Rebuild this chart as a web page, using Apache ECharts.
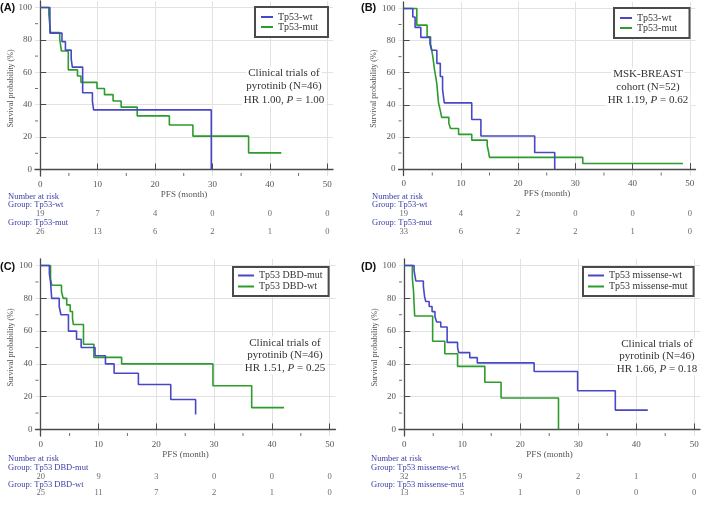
<!DOCTYPE html>
<html>
<head>
<meta charset="utf-8">
<script src="https://cdn.jsdelivr.net/npm/echarts@6/dist/echarts.min.js"></script>
<style>
html, body { margin: 0; padding: 0; background: #fff; }
#chart { width: 709px; height: 507px; }
</style>
</head>
<body>
<div id="chart"></div>
<script>
// tick labels
const xTicks = [0, 10, 20, 30, 40, 50];
const yTicks = [0, 20, 40, 60, 80, 100];
const xMinor = [5, 15, 25, 35, 45];
const yMinor = [10, 30, 50, 70, 90];

// (A) Tp53-wt / Tp53-mut, clinical trials
const aWtTime  = [0, 1.7, 3.8, 4.4, 5.4, 5.6, 7.4, 9.1, 9.3, 29.8];
const aWtSurv  = [100, 84.2, 78.9, 73.7, 68.4, 63.2, 47.4, 42.1, 36.8, 0];
const aMutTime = [0, 1.5, 1.8, 3.4, 3.7, 4.9, 6.5, 7.1, 9.9, 11.2, 12.7, 14.1, 16.9, 22.5, 26.6, 36.3, 42.0];
const aMutSurv = [100, 96.2, 84.6, 80.8, 73.1, 61.5, 57.7, 53.8, 50, 46.2, 42.3, 38.5, 33.1, 27.5, 20.6, 10.3, 10.3];
const aRiskWt  = [19, 7, 4, 0, 0, 0];
const aRiskMut = [26, 13, 6, 2, 1, 0];

// (B) MSK-BREAST
const bWtTime  = [0, 1.6, 2.0, 3.0, 4.6, 4.9, 5.8, 6.4, 6.8, 7.1, 11.9, 13.5, 22.9, 26.4];
const bWtSurv  = [100, 94.7, 88.2, 82, 78, 74, 65.8, 57.6, 49.4, 41.2, 30.9, 20.6, 10.3, 0];
const bMutTime = [0, 2.3, 4.1, 4.7, 4.9, 5.1, 5.4, 5.6, 5.8, 5.95, 6.1, 6.4, 6.65, 7.9, 8.2, 9.6, 11.9, 14.6, 14.8, 15.0, 31.3, 48.8];
const bMutSurv = [100, 89.6, 82.4, 78, 74, 70, 61.6, 57.5, 53, 47, 41, 36.5, 32.2, 28.4, 25.3, 21.6, 18, 14.5, 11.4, 7.3, 3.5, 3.5];
const bRiskWt  = [19, 4, 2, 0, 0, 0];
const bRiskMut = [33, 6, 2, 2, 1, 0];

// (C) DBD-mut / DBD-wt
const cMutTime = [0, 1.5, 1.7, 1.9, 3.2, 3.5, 4.8, 6.2, 7.0, 9.4, 11.2, 12.7, 16.9, 22.5, 26.8];
const cMutSurv = [100, 95, 90, 80, 75, 70, 60, 55, 50, 45, 40, 34.3, 27.4, 18.3, 9.1];
const cWtTime  = [0, 1.7, 1.9, 3.6, 3.9, 4.5, 5.1, 5.5, 5.65, 7.4, 9.2, 14.0, 29.8, 36.5, 42.1];
const cWtSurv  = [100, 92, 88, 84, 80, 76, 72, 68, 64, 52, 44, 40, 26.7, 13.3, 13.3];
const cRiskMut = [20, 9, 3, 0, 0, 0];
const cRiskWt  = [25, 11, 7, 2, 1, 0];

// (D) missense-wt / missense-mut
const dWtTime  = [0, 1.7, 2.0, 3.3, 3.4, 3.5, 3.7, 4.3, 4.8, 5.3, 5.6, 6.3, 7.4, 9.2, 9.4, 11.3, 12.6, 22.4, 29.9, 36.4, 42.0];
const dWtSurv  = [100, 96.9, 90.6, 87.5, 84.4, 81.3, 78.1, 75, 71.9, 68.8, 65.6, 62.5, 53.1, 50, 46.9, 43.8, 40.6, 35.4, 23.6, 11.8, 11.8];
const dMutTime = [0, 1.4, 1.6, 1.8, 4.9, 7.0, 9.2, 13.9, 16.7, 26.6];
const dMutSurv = [100, 92.3, 84.6, 69.2, 53.8, 46.2, 38.5, 28.8, 19.2, 0];
const dRiskWt  = [32, 15, 9, 2, 1, 0];
const dRiskMut = [13, 5, 1, 0, 0, 0];

const panels = [
  { tag: '(A)', names: ['Tp53-wt', 'Tp53-mut'],
    curves: [[aWtTime, aWtSurv], [aMutTime, aMutSurv]], risk: [aRiskWt, aRiskMut],
    note: ['Clinical trials of', 'pyrotinib (N=46)', 'HR 1.00, {i|P} = 1.00'] },
  { tag: '(B)', names: ['Tp53-wt ', 'Tp53-mut '],
    curves: [[bWtTime, bWtSurv], [bMutTime, bMutSurv]], risk: [bRiskWt, bRiskMut],
    note: ['MSK-BREAST', 'cohort (N=52)', 'HR 1.19, {i|P} = 0.62'] },
  { tag: '(C)', names: ['Tp53 DBD-mut', 'Tp53 DBD-wt'],
    curves: [[cMutTime, cMutSurv], [cWtTime, cWtSurv]], risk: [cRiskMut, cRiskWt],
    note: ['Clinical trials of', 'pyrotinib (N=46)', 'HR 1.51, {i|P} = 0.25'] },
  { tag: '(D)', names: ['Tp53 missense-wt', 'Tp53 missense-mut'],
    curves: [[dWtTime, dWtSurv], [dMutTime, dMutSurv]], risk: [dRiskWt, dRiskMut],
    note: ['Clinical trials of', 'pyrotinib (N=46)', 'HR 1.66, {i|P} = 0.18'] }
];

// pixel layout of each panel
const boxes = [
  { plot: [35, 1, 298, 175], risk: [214, 18], tag: [0, 8], legend: [255, 7, 12, 9], note: [284, 73, 13.5], head: [8, 197, 205, 223] },
  { plot: [398.5, 2, 297, 173.5], risk: [214, 18], tag: [361, 8], legend: [614, 8, 12, 9], note: [648, 74, 13], head: [372, 197, 205, 223] },
  { plot: [35.5, 259, 300, 177], risk: [477, 16], tag: [0, 267], legend: [233, 267, 16, 11], note: [285, 343, 12.5], head: [8, 459, 468, 485] },
  { plot: [399, 259, 301, 177], risk: [477, 16], tag: [361, 267], legend: [583, 267, 16, 11], note: [657, 344, 12.5], head: [371, 459, 468, 485] }
];

const SERIF = '"Liberation Serif", "Times New Roman", serif';
const COLORS = ['#4848c6', '#2c9c2c'];
const GROUP_BLUE = '#3c3ca6';
const AXIS = '#4a4a4a';

const grid = [], xAxis = [], yAxis = [], series = [], legend = [], graphic = [];

panels.forEach((p, i) => {
  const b = boxes[i];
  const gi = i * 2, ri = i * 2 + 1;
  grid.push({ left: b.plot[0], top: b.plot[1], width: b.plot[2], height: b.plot[3] });
  grid.push({ left: b.plot[0], top: b.risk[0], width: b.plot[2], height: b.risk[1] });

  xAxis.push({
    gridIndex: gi, type: 'value', min: -0.9, max: 51,
    name: 'PFS (month)', nameLocation: 'middle', nameGap: 12,
    nameTextStyle: { fontFamily: SERIF, fontSize: 9, color: '#555' },
    axisLine: { lineStyle: { color: AXIS, width: 1.3 } },
    axisTick: { customValues: xTicks, inside: true, length: 6, lineStyle: { color: AXIS } },
    axisLabel: { customValues: xTicks, fontFamily: SERIF, fontSize: 9, color: '#555', margin: 4 },
    splitLine: { show: true, lineStyle: { color: '#e2e2e2', width: 1 } }
  });
  yAxis.push({
    gridIndex: gi, type: 'value', min: -4, max: 104,
    name: 'Survival probability (%)', nameLocation: 'middle', nameGap: 17,
    nameTextStyle: { fontFamily: SERIF, fontSize: 8, color: '#555' },
    axisLine: { show: true, lineStyle: { color: AXIS, width: 1.3 } },
    axisTick: { show: true, customValues: yTicks, inside: true, length: 6, lineStyle: { color: AXIS } },
    axisLabel: { customValues: yTicks, fontFamily: SERIF, fontSize: 9, color: '#555', margin: 3 },
    splitLine: { show: true, lineStyle: { color: '#e2e2e2', width: 1 } }
  });
  xAxis.push({ gridIndex: ri, type: 'value', min: -0.9, max: 51, show: false });
  yAxis.push({ gridIndex: ri, type: 'value', min: 0, max: 1, inverse: true, show: false });

  p.curves.forEach((c, k) => {
    series.push({
      name: p.names[k], type: 'line', step: 'end', xAxisIndex: gi, yAxisIndex: gi,
      showSymbol: false, symbol: 'none', color: COLORS[k],
      lineStyle: { width: 1.6, color: COLORS[k] },
      data: c[0].map((t, j) => [t, c[1][j]]), z: 3 - k
    });
  });

  // minor ticks drawn as short marks via markLine-free scatter symbols
  series.push({
    type: 'scatter', xAxisIndex: gi, yAxisIndex: gi, silent: true,
    symbol: 'rect', symbolSize: [1, 3], symbolOffset: [0, -1.5],
    itemStyle: { color: AXIS }, data: xMinor.map(t => [t, -4])
  });
  series.push({
    type: 'scatter', xAxisIndex: gi, yAxisIndex: gi, silent: true,
    symbol: 'rect', symbolSize: [3, 1], symbolOffset: [1.5, 0],
    itemStyle: { color: AXIS }, data: yMinor.map(v => [-0.9, v])
  });

  p.risk.forEach((row, k) => {
    series.push({
      type: 'scatter', xAxisIndex: ri, yAxisIndex: ri, symbolSize: 1,
      itemStyle: { color: 'rgba(0,0,0,0)' }, silent: true,
      label: { show: true, position: 'inside', formatter: q => q.data[2],
        fontFamily: SERIF, fontSize: 8.5, color: '#444' },
      data: xTicks.map((t, j) => [t, k, row[j]])
    });
  });

  legend.push({
    orient: 'vertical', left: b.legend[0], top: b.legend[1],
    data: p.names, icon: 'rect', itemWidth: b.legend[2], itemHeight: 2, itemGap: 0,
    padding: i < 2 ? [5, 10, 5, 6] : [3, 6, 4, 5], selectedMode: false,
    borderColor: AXIS, borderWidth: 2, backgroundColor: '#fff',
    textStyle: { fontFamily: SERIF, fontSize: 10, color: '#333', lineHeight: b.legend[3] }
  });

  graphic.push({
    type: 'text', left: b.tag[0], top: b.tag[1] - 6,
    style: { text: p.tag, font: 'bold 11px "Liberation Sans", Arial, sans-serif', fill: '#111' }
  });

  p.note.forEach((line, k) => {
    graphic.push({
      type: 'text', x: b.note[0], y: b.note[1] + k * b.note[2], z: 10,
      style: {
        text: line, align: 'center', verticalAlign: 'middle',
        fontFamily: SERIF, fontSize: 11, fill: '#333',
        backgroundColor: '#fff', padding: [1, 2],
        rich: { i: { fontFamily: SERIF, fontSize: 11, fontStyle: 'italic', fill: '#333' } }
      }
    });
  });

  const heads = ['Number at risk', 'Group: ' + p.names[0].trim(), 'Group: ' + p.names[1].trim()];
  heads.forEach((h, k) => {
    graphic.push({
      type: 'text', x: b.head[0], y: b.head[k + 1],
      style: { text: h, verticalAlign: 'middle', fontFamily: SERIF, fontSize: 8.5, fill: GROUP_BLUE }
    });
  });
});

const chart = echarts.init(document.getElementById('chart'));
chart.setOption({
  animation: false,
  backgroundColor: '#fff',
  textStyle: { fontFamily: SERIF },
  grid, xAxis, yAxis, series, legend, graphic
});
</script>
</body>
</html>
